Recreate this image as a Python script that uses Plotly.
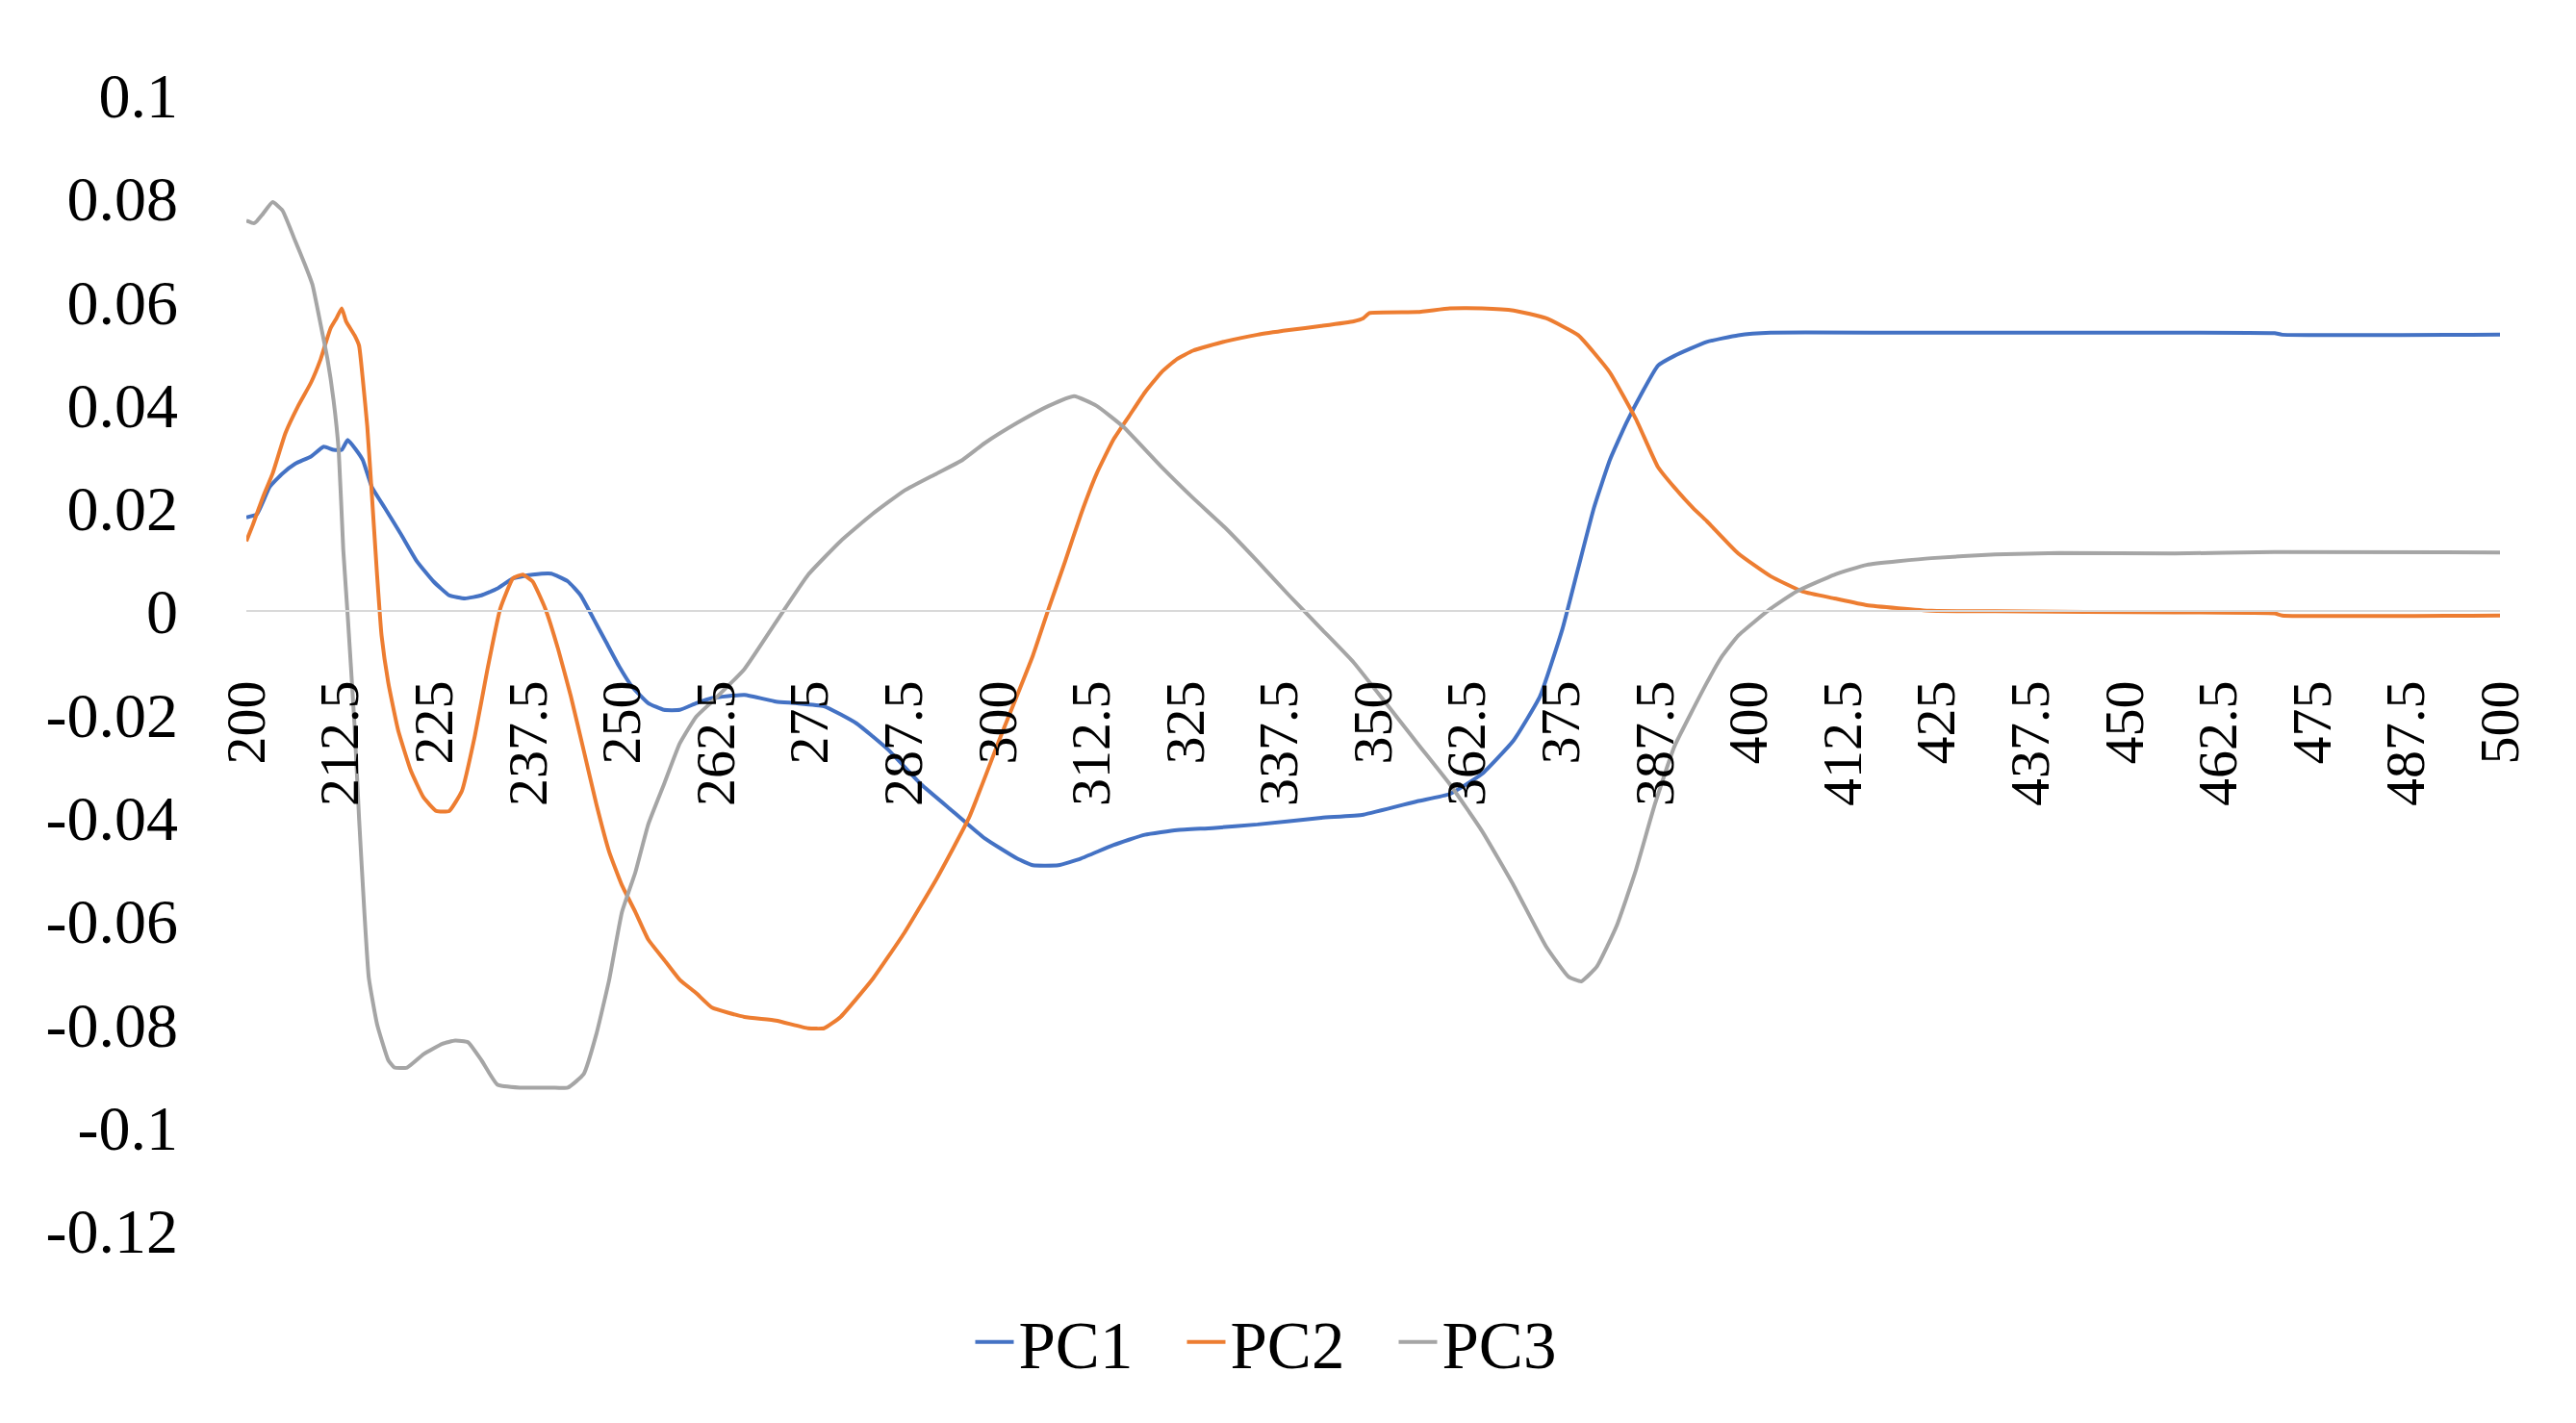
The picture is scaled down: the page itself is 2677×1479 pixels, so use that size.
import plotly.graph_objects as go

# ---- data ----
pc1_nm = [200, 201.4, 203.1, 204.8, 206.5, 208.6, 210.3, 211.6, 212.7, 213.5, 214.6, 215.5, 216.7, 218.4,
          220.6, 222.7, 224.9, 227.0, 229.1, 231.3, 233.4, 235.5, 238.1, 240.6, 242.8, 244.5, 246.2, 247.9,
          249.6, 251.3, 253.5, 255.6, 257.7, 259.9, 262.0, 266.3, 270.5, 273.1, 276.9, 281.2, 285.5, 289.8,
          294.0, 298.3, 302.6, 304.7, 308.1, 311.1, 315.4, 319.6, 323.9, 328.6, 334.6, 343.1, 348.7, 355.9,
          360.2, 364.5, 368.7, 372.2, 375.2, 377.3, 379.4, 381.5, 383.7, 385.8, 387.9, 390.1, 394.4, 398.6,
          402.9, 420, 450, 470, 471, 500]
pc1_val = [0.0182, 0.0188, 0.0241, 0.0267, 0.0286, 0.0300, 0.0319, 0.0313, 0.0313, 0.0332, 0.0313, 0.0293,
           0.0241, 0.0201, 0.0149, 0.0097, 0.0058, 0.0031, 0.0025, 0.0031, 0.0044, 0.0064, 0.0071, 0.0073,
           0.0058, 0.0031, -0.0014, -0.0060, -0.0106, -0.0145, -0.0178, -0.0191, -0.0191, -0.0178, -0.0168,
           -0.0162, -0.0175, -0.0178, -0.0184, -0.0217, -0.0269, -0.0335, -0.0387, -0.0440, -0.0479, -0.0492,
           -0.0492, -0.0479, -0.0453, -0.0433, -0.0424, -0.0420, -0.0413, -0.0400, -0.0394, -0.0368, -0.0354,
           -0.0315, -0.0250, -0.0165, -0.0034, 0.0084, 0.0201, 0.0293, 0.0365, 0.0424, 0.0476, 0.0495, 0.0522,
           0.0535, 0.0540, 0.0540, 0.0540, 0.0539, 0.0536, 0.0536]

pc2_nm = [200, 200.9, 202.2, 203.5, 205.2, 206.9, 208.6, 209.9, 211.2, 212.0, 212.7, 213.3, 214.4, 215.0,
          215.5, 216.1, 216.7, 217.4, 218.0, 218.9, 220.2, 221.9, 223.6, 225.3, 227.0, 228.7, 230.4, 232.1,
          233.8, 235.5, 236.8, 238.1, 239.8, 241.5, 243.2, 244.9, 246.6, 248.3, 250.0, 251.8, 253.5, 255.6,
          257.7, 259.9, 262.0, 266.3, 270.5, 274.8, 276.9, 279.1, 283.3, 287.6, 291.9, 296.2, 300.4, 304.7,
          306.8, 309.0, 311.1, 313.2, 315.4, 317.5, 319.6, 321.8, 323.9, 326.0, 330.3, 334.6, 338.8, 343.1,
          347.4, 348.7, 349.5, 355.9, 360.2, 364.5, 368.7, 373.0, 377.3, 381.5, 385.0, 387.9, 390.1, 392.6,
          394.4, 398.6, 402.9, 407.2, 411.4, 415.7, 424.3, 432.8, 456.7, 470, 471, 500]
pc2_val = [0.0136, 0.0169, 0.0221, 0.0267, 0.0345, 0.0398, 0.0443, 0.0489, 0.0548, 0.0568, 0.0587, 0.0561,
           0.0535, 0.0515, 0.0450, 0.0358, 0.0228, 0.0071, -0.0047, -0.0139, -0.0230, -0.0309, -0.0361,
           -0.0387, -0.0387, -0.0348, -0.0243, -0.0112, 0.0005, 0.0064, 0.0071, 0.0058, 0.0005, -0.0073,
           -0.0165, -0.0269, -0.0374, -0.0466, -0.0531, -0.0583, -0.0636, -0.0675, -0.0714, -0.0740, -0.0768,
           -0.0786, -0.0793, -0.0808, -0.0808, -0.0786, -0.0714, -0.0623, -0.0518, -0.0400, -0.0243, -0.0086,
           0.0005, 0.0097, 0.0188, 0.0267, 0.0332, 0.0378, 0.0424, 0.0463, 0.0489, 0.0505, 0.0523, 0.0536,
           0.0545, 0.0553, 0.0562, 0.0568, 0.0578, 0.0580, 0.0587, 0.0587, 0.0583, 0.0568, 0.0535, 0.0463,
           0.0372, 0.0280, 0.0240, 0.0200, 0.0175, 0.0112, 0.0068, 0.0038, 0.0025, 0.0012, 0.0001, 0.0000,
           -0.0002, -0.0004, -0.0008, -0.0008]

pc3_nm = [200, 201.0, 201.4, 202.2, 203.5, 204.8, 206.5, 207.8, 208.8, 209.9, 210.8, 211.6, 212.3, 212.9,
          213.5, 214.4, 215.0, 215.7, 216.3, 217.4, 218.9, 219.7, 221.4, 223.6, 226.1, 227.8, 229.5, 231.3,
          233.4, 236.4, 240.6, 242.8, 244.9, 246.6, 248.3, 250.0, 251.8, 253.5, 255.6, 257.7, 259.9, 262.0,
          266.3, 270.5, 274.8, 279.1, 283.3, 287.6, 291.9, 295.3, 298.3, 302.6, 306.8, 310.2, 313.2, 316.7,
          321.8, 326.0, 330.3, 334.6, 338.8, 343.1, 347.4, 351.7, 355.9, 360.2, 364.5, 368.7, 373.0, 376.0,
          377.7, 379.8, 382.4, 384.9, 387.5, 390.1, 394.4, 396.5, 398.6, 402.9, 406.3, 411.4, 415.7, 424.3,
          432.8, 441.3, 456.7, 470, 500]
pc3_val = [0.0757, 0.0752, 0.0756, 0.0770, 0.0793, 0.0777, 0.0718, 0.0672, 0.0633, 0.0555, 0.0489, 0.0410,
           0.0310, 0.0120, -0.0010, -0.0220, -0.0400, -0.0580, -0.0710, -0.0800, -0.0870, -0.0884, -0.0884,
           -0.0858, -0.0838, -0.0832, -0.0835, -0.0870, -0.0917, -0.0923, -0.0923, -0.0923, -0.0897, -0.0819,
           -0.0714, -0.0583, -0.0505, -0.0413, -0.0335, -0.0256, -0.0204, -0.0175, -0.0112, -0.0021, 0.0071,
           0.0136, 0.0188, 0.0234, 0.0267, 0.0293, 0.0326, 0.0365, 0.0398, 0.0417, 0.0398, 0.0358, 0.0280,
           0.0220, 0.0162, 0.0097, 0.0031, -0.0034, -0.0099, -0.0178, -0.0256, -0.0335, -0.0426, -0.0531,
           -0.0649, -0.0708, -0.0717, -0.0688, -0.0610, -0.0505, -0.0374, -0.0262, -0.0139, -0.0086, -0.0047,
           0.0005, 0.0038, 0.0071, 0.0090, 0.0103, 0.0110, 0.0113, 0.0112, 0.0115, 0.0114]

x_tick_vals = [200, 212.5, 225, 237.5, 250, 262.5, 275, 287.5, 300, 312.5, 325, 337.5, 350, 362.5,
               375, 387.5, 400, 412.5, 425, 437.5, 450, 462.5, 475, 487.5, 500]
x_tick_text = ["200", "212.5", "225", "237.5", "250", "262.5", "275", "287.5", "300", "312.5", "325",
               "337.5", "350", "362.5", "375", "387.5", "400", "412.5", "425", "437.5", "450", "462.5",
               "475", "487.5", "500"]
y_tick_vals = [0.1, 0.08, 0.06, 0.04, 0.02, 0, -0.02, -0.04, -0.06, -0.08, -0.1, -0.12]
y_tick_text = ["0.1", "0.08", "0.06", "0.04", "0.02", "0", "-0.02", "-0.04", "-0.06", "-0.08", "-0.1", "-0.12"]

series = [("PC1", pc1_nm, pc1_val, "#4472C4"),
          ("PC2", pc2_nm, pc2_val, "#ED7D31"),
          ("PC3", pc3_nm, pc3_val, "#A5A5A5")]

FONT = "Liberation Serif"
Y_MIN, Y_MAX = -0.12, 0.1
PLOT_TOP, PLOT_BOTTOM = 99, 1279  # pixel rows of the plot area

fig = go.Figure()
for name, xs, ys, col in series:
    fig.add_trace(go.Scatter(x=xs, y=ys, mode="lines", name=name,
                             line=dict(color=col, width=4, shape="spline", smoothing=0.4)))

fig.update_layout(
    width=2677, height=1479,
    margin=dict(l=256, r=79, t=PLOT_TOP, b=1479 - PLOT_BOTTOM, autoexpand=False),
    paper_bgcolor="white", plot_bgcolor="white",
    font=dict(family=FONT, size=63, color="#000000"),
    showlegend=True,
    legend=dict(orientation="h", xref="container", yref="container",
                x=0.5, xanchor="center", y=1 - 1395 / 1479, yanchor="middle",
                font=dict(family=FONT, size=69, color="#000000"),
                itemwidth=40, tracegroupgap=0, entrywidth=165, entrywidthmode="pixels"),
    xaxis=dict(range=[200, 500], tickmode="array", tickvals=x_tick_vals, ticktext=x_tick_text,
               tickangle=-90, showgrid=False, zeroline=False, ticks="",
               showline=True, linecolor="#D9D9D9", linewidth=2,
               anchor="free", position=(0 - Y_MIN) / (Y_MAX - Y_MIN),
               ticklabelstandoff=48, automargin=False,
               tickfont=dict(family=FONT, size=58, color="#000000")),
    yaxis=dict(range=[Y_MIN, Y_MAX], tickmode="array", tickvals=y_tick_vals, ticktext=y_tick_text,
               showgrid=False, zeroline=False, showline=False, ticks="",
               ticklabelstandoff=70, automargin=False,
               tickfont=dict(family=FONT, size=66, color="#000000")),
)

fig.write_html("out.html", config={"displayModeBar": False},
               post_script="document.body.style.margin='0';document.body.style.overflow='hidden';")
